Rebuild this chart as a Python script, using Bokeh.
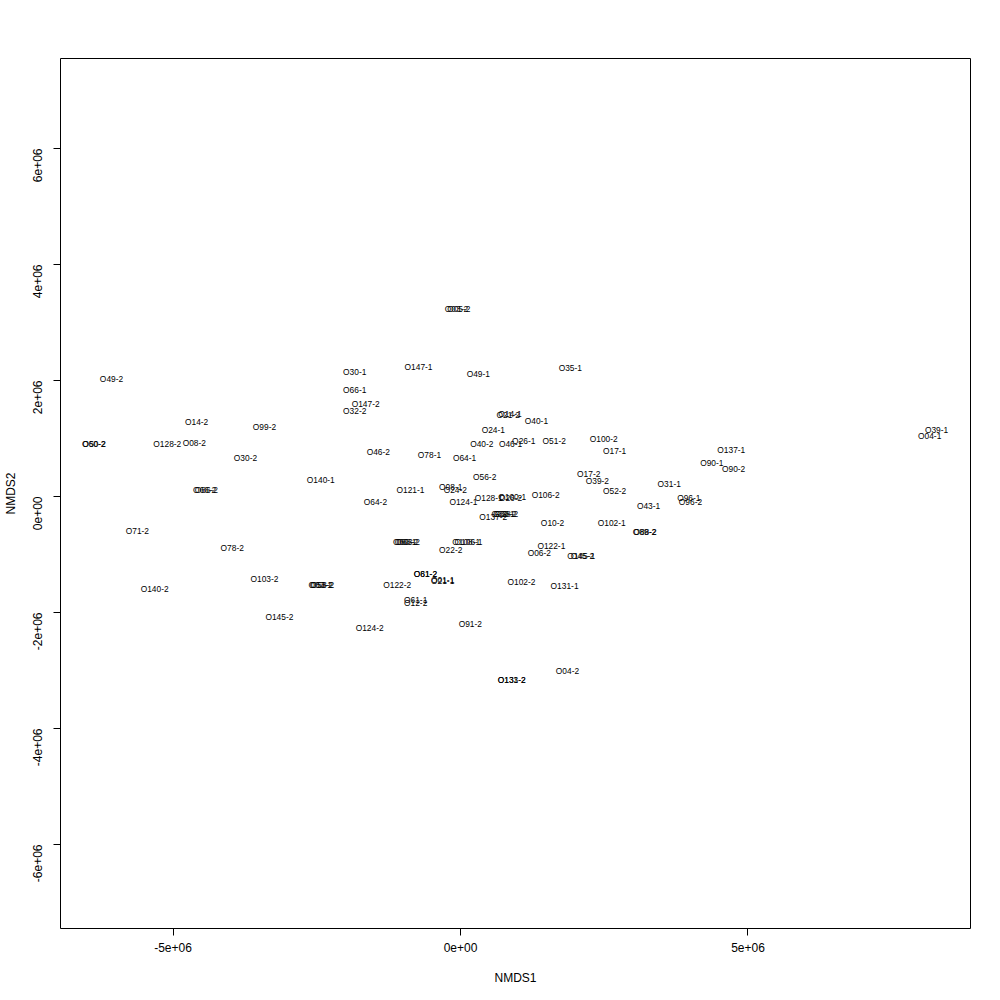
from bokeh.plotting import figure
from bokeh.models import Range1d, FixedTicker, ColumnDataSource
from bokeh.core.properties import value
from bokeh.embed import file_html
from bokeh.resources import INLINE
import math

# NMDS site scores
sample_ids = [
    "O49-2", "O60-2", "O50-2", "O14-2", "O99-2", "O128-2", "O08-2", "O30-2", "O140-1",
    "O30-1", "O66-1", "O147-2", "O32-2", "O05-2", "O03-2", "O147-1", "O49-1", "O35-1",
    "O46-2", "O78-1", "O64-1", "O40-2", "O46-1", "O26-1", "O51-2", "O24-1", "O40-1",
    "O21-2", "O14-1", "O100-2", "O17-1", "O137-1", "O90-1", "O90-2", "O17-2", "O39-2",
    "O52-2", "O31-1", "O96-1", "O96-2", "O43-1", "O102-1", "O89-2", "O88-2", "O10-2",
    "O106-2", "O39-1", "O04-1", "O56-2", "O121-1", "O08-1", "O24-2", "O64-2", "O124-1",
    "O128-1", "O100-1", "O26-2", "O32-1", "O33-2", "O38-2", "O137-2", "O60-1", "O68-2",
    "O63-2", "O108-1", "O106-1", "O22-2", "O122-1", "O06-2", "O45-2", "O145-1", "O81-2",
    "O61-2", "O21-1", "O01-1", "O122-2", "O102-2", "O131-1", "O58-2", "O53-2", "O03-1",
    "O103-2", "O140-2", "O71-2", "O78-2", "O66-2", "O86-2", "O145-2", "O61-1", "O12-2",
    "O124-2", "O91-2", "O131-2", "O133-2", "O04-2",
]
nmds1 = [
    -6.07e6, -6.38e6, -6.37e6, -4.59e6, -3.41e6, -5.10e6, -4.63e6, -3.74e6, -2.43e6,
    -1.84e6, -1.84e6, -1.65e6, -1.84e6, -0.03e6, -0.07e6, -0.73e6, 0.31e6, 1.91e6,
    -1.43e6, -0.54e6, 0.07e6, 0.37e6, 0.87e6, 1.10e6, 1.63e6, 0.57e6, 1.32e6,
    0.83e6, 0.86e6, 2.49e6, 2.68e6, 4.71e6, 4.37e6, 4.75e6, 2.23e6, 2.38e6,
    2.68e6, 3.63e6, 3.97e6, 4.00e6, 3.27e6, 2.63e6, 3.20e6, 3.21e6, 1.60e6,
    1.48e6, 8.28e6, 8.16e6, 0.42e6, -0.87e6, -0.17e6, -0.09e6, -1.48e6, 0.05e6,
    0.49e6, 0.90e6, 0.87e6, 0.74e6, 0.77e6, 0.80e6, 0.57e6, -0.97e6, -0.94e6,
    -0.91e6, 0.10e6, 0.14e6, -0.17e6, 1.58e6, 1.37e6, 2.12e6, 2.10e6, -0.61e6,
    -0.61e6, -0.31e6, -0.31e6, -1.10e6, 1.06e6, 1.81e6, -2.40e6, -2.42e6, -2.44e6,
    -3.41e6, -5.32e6, -5.62e6, -3.97e6, -4.45e6, -4.42e6, -3.15e6, -0.78e6, -0.78e6,
    -1.58e6, 0.17e6, 0.89e6, 0.89e6, 1.86e6,
]
nmds2 = [
    2.02e6, 0.90e6, 0.90e6, 1.29e6, 1.19e6, 0.90e6, 0.93e6, 0.66e6, 0.29e6,
    2.14e6, 1.83e6, 1.60e6, 1.47e6, 3.24e6, 3.24e6, 2.24e6, 2.12e6, 2.21e6,
    0.76e6, 0.72e6, 0.67e6, 0.90e6, 0.90e6, 0.95e6, 0.95e6, 1.14e6, 1.31e6,
    1.41e6, 1.42e6, 1.00e6, 0.79e6, 0.81e6, 0.57e6, 0.48e6, 0.38e6, 0.26e6,
    0.09e6, 0.21e6, -0.02e6, -0.10e6, -0.17e6, -0.45e6, -0.62e6, -0.62e6, -0.45e6,
    0.02e6, 1.14e6, 1.05e6, 0.33e6, 0.12e6, 0.16e6, 0.12e6, -0.10e6, -0.09e6,
    -0.03e6, 0.00e6, -0.03e6, -0.31e6, -0.31e6, -0.31e6, -0.36e6, -0.79e6, -0.79e6,
    -0.79e6, -0.78e6, -0.79e6, -0.93e6, -0.86e6, -0.97e6, -1.02e6, -1.02e6, -1.33e6,
    -1.34e6, -1.45e6, -1.44e6, -1.53e6, -1.47e6, -1.55e6, -1.53e6, -1.53e6, -1.53e6,
    -1.43e6, -1.59e6, -0.59e6, -0.88e6, 0.12e6, 0.12e6, -2.07e6, -1.79e6, -1.84e6,
    -2.26e6, -2.19e6, -3.16e6, -3.16e6, -3.00e6,
]

x_ticks = [-5e6, 0, 5e6]
x_tick_labels = ["-5e+06", "0e+00", "5e+06"]
y_ticks = [-6e6, -4e6, -2e6, 0, 2e6, 4e6, 6e6]
y_tick_labels = ["-6e+06", "-4e+06", "-2e+06", "0e+00", "2e+06", "4e+06", "6e+06"]

FONT = "Liberation Sans"

p = figure(
    width=1000, height=1000,
    x_range=Range1d(-6.957e6, 8.870e6),
    y_range=Range1d(-7.448e6, 7.552e6),
    output_backend="svg", toolbar_location=None,
    min_border_left=60, min_border_right=30, min_border_top=58, min_border_bottom=72,
)
p.background_fill_color = "white"
p.border_fill_color = "white"
p.outline_line_color = "black"
p.outline_line_width = 1
p.xgrid.visible = False
p.ygrid.visible = False

src = ColumnDataSource(dict(x=nmds1, y=nmds2, label=sample_ids))
p.text(x="x", y="y", text="label", source=src,
       text_align="center", text_baseline="middle",
       text_font=value(FONT), text_font_size="8.4px", text_color="black")

for ax, ticks, labels in ((p.xaxis[0], x_ticks, x_tick_labels), (p.yaxis[0], y_ticks, y_tick_labels)):
    ax.ticker = FixedTicker(ticks=ticks)
    ax.major_label_overrides = {t: l for t, l in zip(ticks, labels)}
    ax.bounds = (ticks[0], ticks[-1])
    ax.minor_tick_line_color = None
    ax.major_tick_in = 0
    ax.major_tick_out = 7
    ax.axis_line_color = "black"
    ax.major_tick_line_color = "black"
    ax.major_label_text_font = FONT
    ax.major_label_text_font_size = "12px"
    ax.major_label_text_color = "black"
    ax.axis_label_text_font = FONT
    ax.axis_label_text_font_size = "12px"
    ax.axis_label_text_font_style = "normal"
    ax.axis_label_text_color = "black"

p.xaxis.axis_label = "NMDS1"
p.yaxis.axis_label = "NMDS2"
p.xaxis.major_label_standoff = 7
p.xaxis.axis_label_standoff = 16
p.yaxis.major_label_orientation = math.pi / 2
p.yaxis.major_label_standoff = 16
p.yaxis.axis_label_standoff = 8

open("out.html", "w").write(file_html(p, INLINE))
